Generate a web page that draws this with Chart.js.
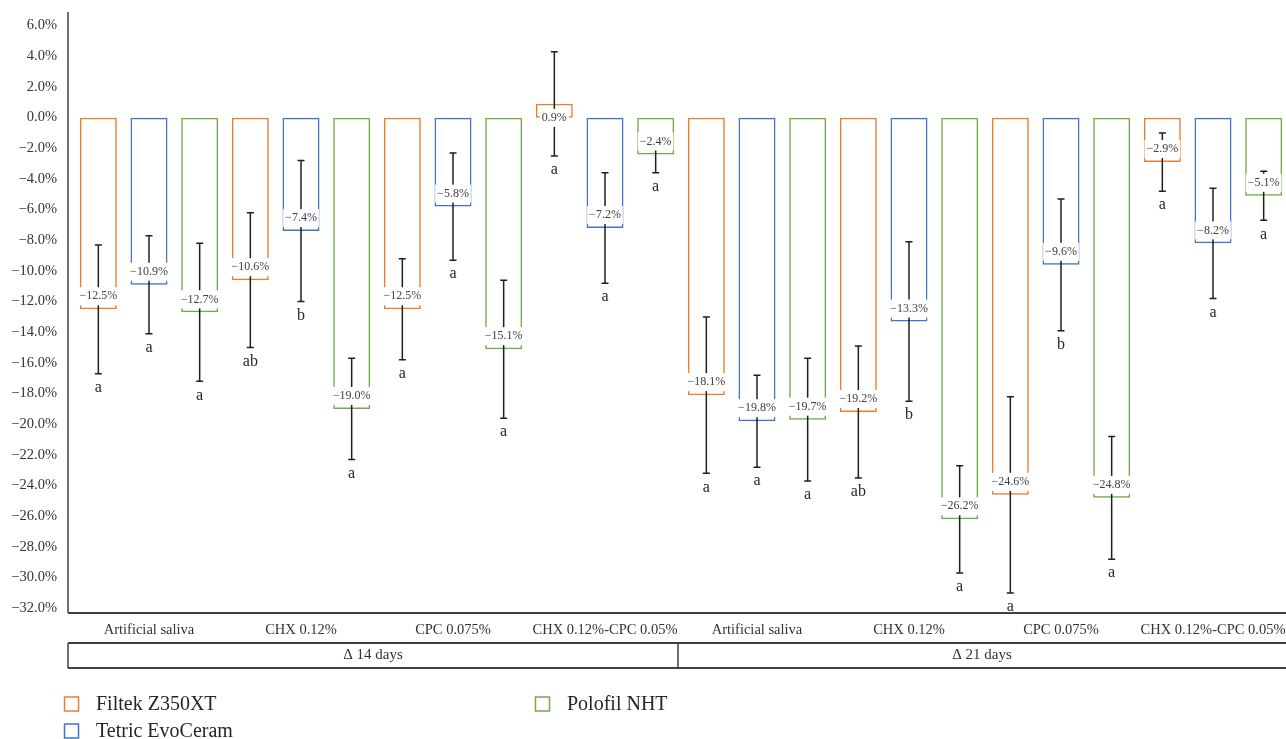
<!DOCTYPE html>
<html>
<head>
<meta charset="utf-8">
<title>Colour change by treatment</title>
<script src="https://cdn.jsdelivr.net/npm/chart.js@4.4.1/dist/chart.umd.min.js"></script>
<style>
    html, body { margin: 0; padding: 0; background: #fff; overflow: hidden; }
    #wrap { position: relative; width: 1300px; height: 739px; }
</style>
</head>
<body>
<div id="wrap"><canvas id="chart" width="1300" height="739"></canvas></div>
<script>
// Datos
const treatments = ['Artificial saliva', 'CHX 0.12%', 'CPC 0.075%', 'CHX 0.12%-CPC 0.05%'];
const periods = ['\u0394 14 days', '\u0394 21 days'];
const categories = [...treatments, ...treatments];

const filtek = [-12.5, -10.6, -12.5, 0.9, -18.1, -19.2, -24.6, -2.9];
const filtekSd = [4.2, 4.4, 3.3, 3.4, 5.1, 4.3, 6.4, 1.9];
const filtekLetters = ['a', 'ab', 'a', 'a', 'a', 'ab', 'a', 'a'];

const tetric = [-10.9, -7.4, -5.8, -7.2, -19.8, -13.3, -9.6, -8.2];
const tetricSd = [3.2, 4.6, 3.5, 3.6, 3.0, 5.2, 4.3, 3.6];
const tetricLetters = ['a', 'b', 'a', 'a', 'a', 'b', 'b', 'a'];

const polofil = [-12.7, -19.0, -15.1, -2.4, -19.7, -26.2, -24.8, -5.1];
const polofilSd = [4.5, 3.3, 4.5, 1.2, 4.0, 3.5, 4.0, 1.6];
const polofilLetters = ['a', 'a', 'a', 'a', 'a', 'a', 'a', 'a'];

const yTicks = [6, 4, 2, 0, -2, -4, -6, -8, -10, -12, -14, -16, -18, -20, -22, -24, -26, -28, -30, -32];

const colors = { orange: '#ED7D31', blue: '#4472C4', green: '#70AD47' };
const serif = '"Liberation Serif", "Times New Roman", serif';

function pct(v) {
    return v.toFixed(1).replace('-', '\u2212') + '%';
}

// Barras de error, etiquetas, letras, caja de categorías y leyenda
const overlay = {
    id: 'overlay',
    afterDatasetsDraw(chart) {
        const ctx = chart.ctx;
        const y = chart.scales.y;
        chart.data.datasets.forEach((ds, di) => {
            const meta = chart.getDatasetMeta(di);
            meta.data.forEach((bar, i) => {
                const v = ds.data[i];
                const sd = ds.sd[i];
                const x = bar.x;
                const yHi = y.getPixelForValue(v + sd);
                const yLo = y.getPixelForValue(v - sd);
                ctx.save();
                ctx.strokeStyle = '#1f1f1f';
                ctx.lineWidth = 1.5;
                ctx.beginPath();
                ctx.moveTo(x, yHi); ctx.lineTo(x, yLo);
                ctx.moveTo(x - 3.5, yHi); ctx.lineTo(x + 3.5, yHi);
                ctx.moveTo(x - 3.5, yLo); ctx.lineTo(x + 3.5, yLo);
                ctx.stroke();

                const txt = pct(v);
                ctx.font = '12px ' + serif;
                const w = ctx.measureText(txt).width + 4;
                const cy = bar.y + (v < 0 ? -13 : 14);
                ctx.fillStyle = '#fff';
                ctx.fillRect(x - w / 2, cy - 9, w, 18);
                ctx.fillStyle = '#404040';
                ctx.textAlign = 'center';
                ctx.textBaseline = 'middle';
                ctx.fillText(txt, x, cy);

                ctx.font = '16px ' + serif;
                ctx.fillStyle = '#262626';
                ctx.fillText(ds.letters[i], x, yLo + 14);
                ctx.restore();
            });
        });
    },
    afterDraw(chart) {
        const ctx = chart.ctx;
        const area = chart.chartArea;
        const xs = chart.scales.x;
        const axisX = area.left - 5;
        const right = 1286;
        const split = (xs.getPixelForValue(3) + xs.getPixelForValue(4)) / 2 - 3;
        const rowTop = area.bottom + 30;
        const rowBottom = area.bottom + 55;

        ctx.save();
        ctx.strokeStyle = '#404040';
        ctx.lineWidth = 1.5;
        ctx.beginPath();
        ctx.moveTo(axisX, area.top); ctx.lineTo(axisX, area.bottom);
        ctx.moveTo(axisX, rowTop); ctx.lineTo(axisX, rowBottom);
        ctx.moveTo(split, rowTop); ctx.lineTo(split, rowBottom);
        ctx.stroke();
        ctx.lineWidth = 2;
        ctx.beginPath();
        ctx.moveTo(axisX, area.bottom); ctx.lineTo(right, area.bottom);
        ctx.moveTo(axisX, rowTop); ctx.lineTo(right, rowTop);
        ctx.moveTo(axisX, rowBottom); ctx.lineTo(right, rowBottom);
        ctx.stroke();

        ctx.fillStyle = '#333';
        ctx.font = '15px ' + serif;
        ctx.textAlign = 'center';
        ctx.textBaseline = 'middle';
        const mid = (rowTop + rowBottom) / 2;
        ctx.fillText(periods[0], (axisX + split) / 2, mid);
        ctx.fillText(periods[1], (split + right) / 2, mid);

        // Leyenda
        const items = [
            { label: chart.data.datasets[0].label, color: colors.orange, x: 64, y: 704 },
            { label: chart.data.datasets[1].label, color: colors.blue, x: 64, y: 731 },
            { label: chart.data.datasets[2].label, color: colors.green, x: 535, y: 704 }
        ];
        ctx.font = '20px ' + serif;
        ctx.textAlign = 'left';
        items.forEach(it => {
            ctx.strokeStyle = it.color;
            ctx.lineWidth = 1.5;
            ctx.strokeRect(it.x + 0.5, it.y - 7, 14, 14);
            ctx.fillStyle = '#262626';
            ctx.fillText(it.label, it.x + 32, it.y + 1);
        });
        ctx.restore();
    }
};

const barStyle = {
    backgroundColor: 'rgba(255, 255, 255, 0)',
    borderWidth: 1.5,
    borderSkipped: false,
    barPercentage: 0.73,
    categoryPercentage: 1.0
};

new Chart(document.getElementById('chart'), {
    type: 'bar',
    data: {
        labels: categories,
        datasets: [
            { label: 'Filtek Z350XT', data: filtek, sd: filtekSd, letters: filtekLetters, borderColor: colors.orange, ...barStyle },
            { label: 'Tetric EvoCeram', data: tetric, sd: tetricSd, letters: tetricLetters, borderColor: colors.blue, ...barStyle },
            { label: 'Polofil NHT', data: polofil, sd: polofilSd, letters: polofilLetters, borderColor: colors.green, ...barStyle }
        ]
    },
    options: {
        responsive: false,
        animation: false,
        layout: { padding: { top: 12, right: 11, left: 0, bottom: 0 } },
        plugins: {
            legend: { display: false },
            tooltip: { enabled: false }
        },
        scales: {
            x: {
                grid: { display: false, drawTicks: false },
                border: { display: false },
                ticks: {
                    color: '#333',
                    font: { family: serif, size: 14.5 },
                    padding: 8,
                    maxRotation: 0,
                    autoSkip: false
                },
                afterFit: (scale) => {
                    scale.height = 126;
                    scale.paddingLeft = 0;
                    scale.paddingRight = 0;
                }
            },
            y: {
                min: -32.31,
                max: 6.89,
                grid: { display: false, drawTicks: false },
                border: { display: false },
                afterBuildTicks: (scale) => { scale.ticks = yTicks.map(v => ({ value: v })); },
                ticks: {
                    color: '#333',
                    font: { family: serif, size: 14.5 },
                    padding: 16,
                    callback: (v) => pct(v)
                },
                afterFit: (scale) => {
                    scale.width = 73;
                    scale.paddingTop = 0;
                    scale.paddingBottom = 0;
                }
            }
        }
    },
    plugins: [overlay]
});
</script>
</body>
</html>
